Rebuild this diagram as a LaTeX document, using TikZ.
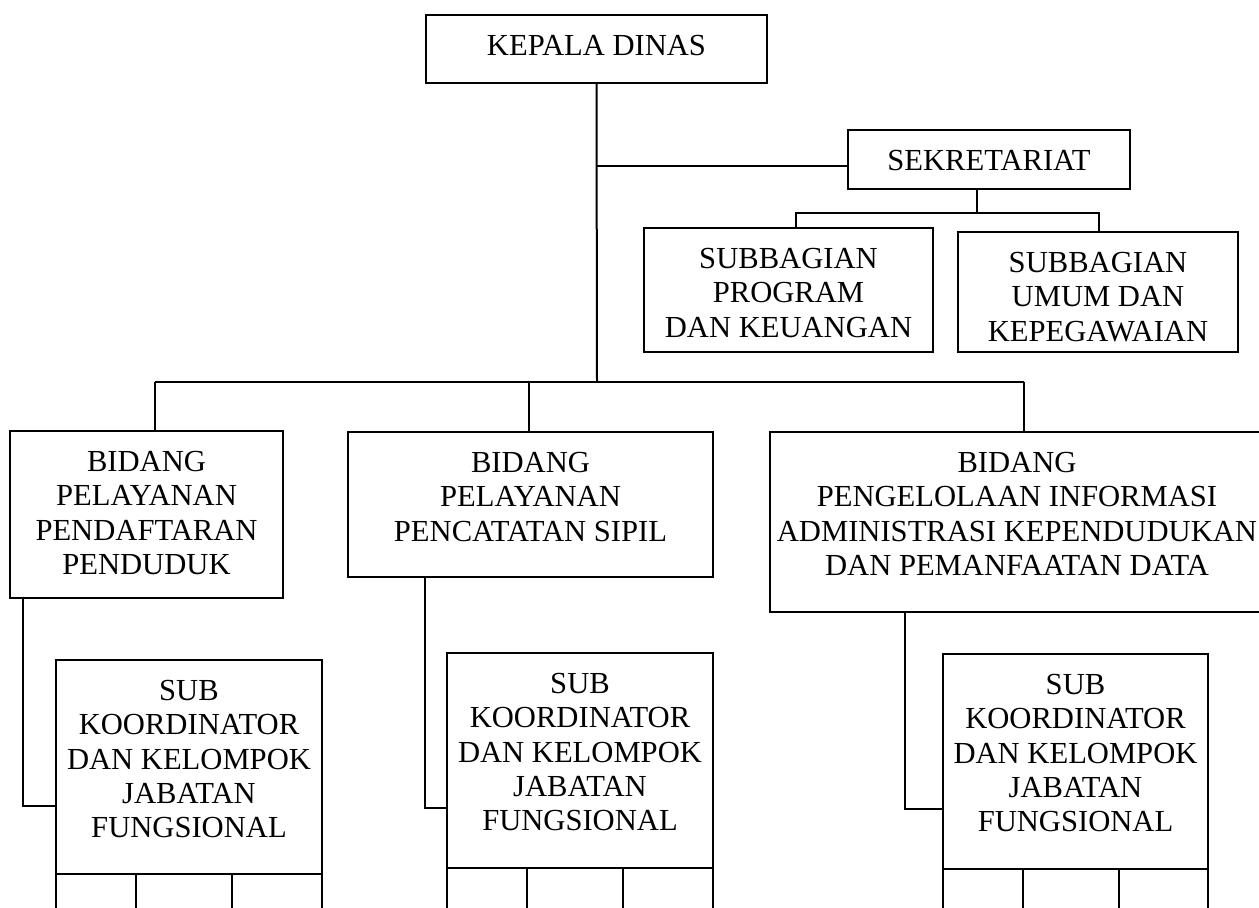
\documentclass[tikz,border=0pt]{standalone}
\usepackage{fontspec}
\setmainfont{Liberation Serif}
\usetikzlibrary{positioning, calc}

\begin{document}
\begin{tikzpicture}[
    x=0.5pt, y=-0.5pt,
    line width=1pt,
    box/.style={draw, rectangle, fill=white, inner sep=0pt, outer sep=0pt},
    boxtext/.style={anchor=north, align=center, inner sep=0pt, yshift=-9.5pt, font=\fontsize{15.3pt}{17.2pt}\selectfont},
    cell/.style={draw, rectangle, minimum height=40pt, inner sep=0pt, outer sep=0pt, anchor=north west}
]
    \useasboundingbox (0,0) rectangle (1259,908);

    % --- Top level ---
    \node[box, minimum width=170.5pt, minimum height=34pt] (kepala) at (596.5,49) {};
    \node[boxtext] (kepala-t) at (kepala.north) {KEPALA DINAS};

    % --- Sekretariat and its subbagian ---
    \node[box, minimum width=141pt, minimum height=29.5pt] (sekre) at (989,159.5) {};
    \node[boxtext] (sekre-t) at (sekre.north) {SEKRETARIAT};

    \node[box, minimum width=144.5pt, minimum height=62pt] (subprog) at (788.5,290) {};
    \node[boxtext] (subprog-t) at (subprog.north) {SUBBAGIAN\\PROGRAM\\DAN KEUANGAN};

    \node[box, minimum width=140pt, minimum height=60pt] (subumum) at (1098,292) {};
    \node[boxtext] (subumum-t) at (subumum.north) {SUBBAGIAN\\UMUM DAN\\KEPEGAWAIAN};

    % --- Bidang ---
    \node[box, minimum width=136.5pt, minimum height=83.5pt] (bidang1) at (146.5,514.5) {};
    \node[boxtext] (bidang1-t) at (bidang1.north) {BIDANG\\PELAYANAN\\PENDAFTARAN\\PENDUDUK};

    \node[box, minimum width=182.5pt, minimum height=72.5pt] (bidang2) at (530.5,504.5) {};
    \node[boxtext] (bidang2-t) at (bidang2.north) {BIDANG\\PELAYANAN\\PENCATATAN SIPIL};

    \node[box, minimum width=247pt, minimum height=90pt] (bidang3) at (1017,522) {};
    \node[boxtext] (bidang3-t) at (bidang3.north) {BIDANG\\PENGELOLAAN INFORMASI\\ADMINISTRASI KEPENDUDUKAN\\DAN PEMANFAATAN DATA};

    % --- Sub koordinator ---
    \node[box, minimum width=133pt, minimum height=107pt] (sub1) at (189,767) {};
    \node[box, minimum width=133pt, minimum height=107.5pt] (sub2) at (580,760.5) {};
    \node[box, minimum width=132.5pt, minimum height=107.5pt] (sub3) at (1075.5,761.5) {};
    \foreach \s in {sub1,sub2,sub3} {
        \node[boxtext] (\s-t) at (\s.north) {SUB\\KOORDINATOR\\DAN KELOMPOK\\JABATAN\\FUNGSIONAL};
        % cells under the box (cut by the page edge)
        \node[cell, minimum width=40pt] (\s-c1) at (\s.south west) {};
        \node[cell, minimum width=48pt] (\s-c2) at (\s-c1.north east) {};
        \path let \p1=(\s-c2.north east), \p2=(\s.south east) in
            node[cell, minimum width=\x2-\x1] (\s-c3) at (\s-c2.north east) {};
    }

    % --- Connections ---
    \coordinate (hub) at (597,382);
    \coordinate (sekjoin) at (597,166);
    \coordinate (sekbus) at (977,213);
    \coordinate (progdrop) at (796,213);
    \coordinate (umumdrop) at (1099,213);
    \coordinate (b1drop) at (155,382);
    \coordinate (b2drop) at (529,382);
    \coordinate (b3drop) at (1024,382);

    \draw (kepala.south) -- (hub);
    \draw (sekjoin) -- (sekjoin -| sekre.west);
    \draw (sekbus |- sekre.south) -- (sekbus);
    \draw (progdrop |- subprog.north) -- (progdrop) -- (umumdrop) -- (umumdrop |- subumum.north);

    \draw (b1drop) -- (b3drop);
    \draw (b1drop) -- (b1drop |- bidang1.north);
    \draw (b2drop) -- (b2drop |- bidang2.north);
    \draw (b3drop) -- (b3drop |- bidang3.north);

    % Bidang to sub koordinator
    \coordinate (b1leg) at (23,806);
    \coordinate (b2leg) at (425,808);
    \coordinate (b3leg) at (905,809);
    \draw (b1leg |- bidang1.south) -- (b1leg) -- (b1leg -| sub1.west);
    \draw (b2leg |- bidang2.south) -- (b2leg) -- (b2leg -| sub2.west);
    \draw (b3leg |- bidang3.south) -- (b3leg) -- (b3leg -| sub3.west);

\end{tikzpicture}
\end{document}
